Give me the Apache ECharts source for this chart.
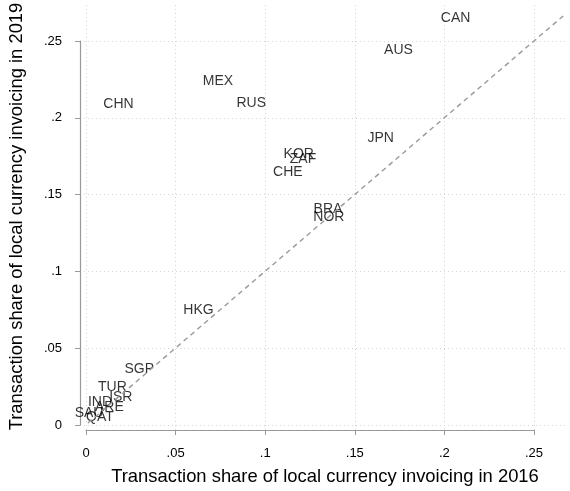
<!DOCTYPE html>
<html>
<head>
<meta charset="utf-8">
<script src="https://cdn.jsdelivr.net/npm/echarts@6/dist/echarts.min.js"></script>
<style>
  html, body { margin: 0; padding: 0; background: #fff; }
  #main { width: 570px; height: 491px; }
</style>
</head>
<body>
<div id="main"></div>
<script>
// data (label centres)
let countries = ['CAN', 'AUS', 'MEX', 'RUS', 'CHN', 'JPN', 'KOR', 'ZAF', 'CHE', 'BRA', 'NOR',
                 'HKG', 'SGP', 'TUR', 'ISR', 'IND', 'ARE', 'SAU', 'QAT'];
let share2016 = [0.206, 0.174, 0.0728, 0.0915, 0.0171, 0.164, 0.1181, 0.1205, 0.1120, 0.1345, 0.1350,
                 0.0619, 0.0287, 0.0137, 0.0184, 0.0067, 0.0120, 0.0006, 0.0067];
let share2019 = [0.2663, 0.2454, 0.2249, 0.2103, 0.2100, 0.1875, 0.1774, 0.1738, 0.1651, 0.1413, 0.1363,
                 0.0749, 0.0365, 0.0247, 0.0182, 0.0150, 0.0117, 0.0075, 0.0052];

let myChart = echarts.init(document.getElementById('main'));

let pts = countries.map(function (c, i) {
    return { name: c, value: [share2016[i], share2019[i]] };
});
let lo = 0;
let hi = Math.max.apply(null, share2019);

function fmt(v) {
    // stata style: .05 instead of 0.05
    if (v === 0) return '0';
    return String(+v.toFixed(2)).replace(/^0/, '');
}

let gridLine = { show: true, lineStyle: { color: '#d4d4d4', type: [1, 3], width: 1 } };
let font = 'Liberation Sans, Arial, sans-serif';
let hidden = { type: 'value', show: false, min: 0, max: 1, splitLine: { show: false } };

option = {
    backgroundColor: '#fff',
    animation: false,
    grid: [
        { left: 80, right: 2, top: 5, bottom: 61 },          // data
        { left: 86, width: 448, top: 5, bottom: 61 },        // x ticks + vertical grid
        { left: 80, right: 2, top: 41, height: 384 }         // y ticks + horizontal grid
    ],
    xAxis: [
        {
            gridIndex: 0, type: 'value', min: -6 / 1792, max: 482 / 1792,
            axisLine: { show: false }, axisTick: { show: false }, axisLabel: { show: false }, splitLine: { show: false },
            name: 'Transaction share of local currency invoicing in 2016',
            nameLocation: 'middle', nameGap: 40,
            nameTextStyle: { fontSize: 18.4, color: '#000', fontFamily: font }
        },
        {
            gridIndex: 1, type: 'value', min: 0, max: 0.25, interval: 0.05, offset: 6,
            axisLine: { show: true, lineStyle: { color: '#999', width: 1.2 } },
            axisTick: { show: true, length: 5, lineStyle: { color: '#999' } },
            axisLabel: { formatter: fmt, fontSize: 13, color: '#000', margin: 11, fontFamily: font },
            splitLine: gridLine
        },
        Object.assign({ gridIndex: 2 }, hidden)
    ],
    yAxis: [
        {
            gridIndex: 0, type: 'value', min: -5 / 1536, max: 420 / 1536,
            axisLine: { show: false }, axisTick: { show: false }, axisLabel: { show: false }, splitLine: { show: false },
            name: 'Transaction share of local currency invoicing in 2019',
            nameLocation: 'middle', nameGap: 56,
            nameTextStyle: { fontSize: 18.4, color: '#000', fontFamily: font }
        },
        Object.assign({ gridIndex: 1 }, hidden),
        {
            gridIndex: 2, type: 'value', min: 0, max: 0.25, interval: 0.05, offset: 7,
            axisLine: { show: true, lineStyle: { color: '#999', width: 1.2 } },
            axisTick: { show: true, length: 5, lineStyle: { color: '#999' } },
            axisLabel: { formatter: fmt, fontSize: 13, color: '#000', margin: 11, fontFamily: font },
            splitLine: gridLine
        }
    ],
    series: [
        {
            type: 'line',
            xAxisIndex: 0, yAxisIndex: 0,
            data: [[lo, lo], [hi, hi]],
            symbol: 'none',
            lineStyle: { color: '#999', width: 1.4, type: [5, 4] },
            silent: true
        },
        {
            type: 'scatter',
            xAxisIndex: 0, yAxisIndex: 0,
            data: pts,
            symbolSize: 0,
            label: {
                show: true,
                position: 'inside',
                offset: [0, 2],
                formatter: '{b}',
                fontSize: 14,
                color: '#000',
                fontFamily: font
            }
        }
    ]
};

myChart.setOption(option);
</script>
</body>
</html>
